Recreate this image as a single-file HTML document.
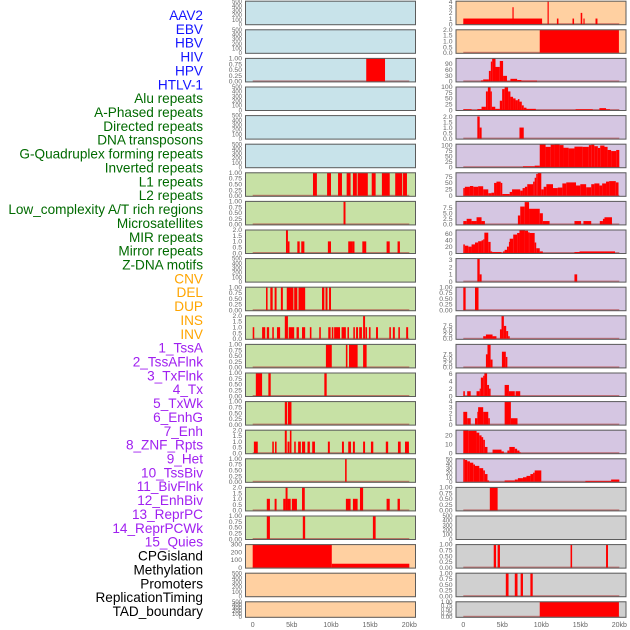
<!DOCTYPE html>
<html><head><meta charset="utf-8"><style>
html,body{margin:0;padding:0;background:#fff;width:630px;height:630px;overflow:hidden}
svg{display:block;font-family:"Liberation Sans",sans-serif}
</style></head><body>
<svg id="chart" width="630" height="630"></svg>
<script>
// ---------- data ----------
const trackLabels = ["AAV2","EBV","HBV","HIV","HPV","HTLV-1","Alu repeats","A-Phased repeats","Directed repeats","DNA transposons","G-Quadruplex forming repeats","Inverted repeats","L1 repeats","L2 repeats","Low_complexity A/T rich regions","Microsatellites","MIR repeats","Mirror repeats","Z-DNA motifs","CNV","DEL","DUP","INS","INV","1_TssA","2_TssAFlnk","3_TxFlnk","4_Tx","5_TxWk","6_EnhG","7_Enh","8_ZNF_Rpts","9_Het","10_TssBiv","11_BivFlnk","12_EnhBiv","13_ReprPC","14_ReprPCWk","15_Quies","CPGisland","Methylation","Promoters","ReplicationTiming","TAD_boundary"];
const labelGroups = [0,0,0,0,0,0,1,1,1,1,1,1,1,1,1,1,1,1,1,2,2,2,2,2,3,3,3,3,3,3,3,3,3,3,3,3,3,3,3,4,4,4,4,4];
const groupColors = ["#1414ff","#006a00","#ffa500","#a020f0","#000000"];
const xTickValues = [0,5,10,15,20];
const xTickLabels = ["0","5kb","10kb","15kb","20kb"];

const T500 = [0,100,200,300,400,500], T500L = ["0","100","200","300","400","500"];
const T1 = [0,0.25,0.5,0.75,1], T1L = ["0.00","0.25","0.50","0.75","1.00"];
const T2 = [0,0.5,1,1.5,2], T2L = ["0.0","0.5","1.0","1.5","2.0"];
const T300 = [0,100,200,300], T300L = ["0","100","200","300"];
const T4 = [0,1,2,3,4], T4L = ["0","1","2","3","4"];
const T3 = [0,1,2,3], T3L = ["0","1","2","3"];
const T90 = [0,30,60,90], T90L = ["0","30","60","90"];
const T100 = [0,25,50,75,100], T100L = ["0","25","50","75","100"];
const T75 = [0,25,50,75], T75L = ["0","25","50","75"];
const T7 = [0,2.5,5,7.5], T7L = ["0.0","2.5","5.0","7.5"];
const T60 = [0,20,40,60], T60L = ["0","20","40","60"];
const T6 = [0,2,4,6], T6L = ["0","2","4","6"];
const T20 = [0,10,20], T20L = ["0","10","20"];
const T50 = [0,10,20,30,40,50], T50L = ["0","10","20","30","40","50"];

// segments: [startKb, endKb, value]
const L_HIV = [[14.5,16.9,1]];
const L_L1 = [[7.7,8.2,1],[9.5,10.0,1],[10.9,11.4,1],[12.0,12.5,1],[12.8,13.3,1],[13.4,14.7,1],[15.2,15.7,1],[16.5,17.5,1],[18.2,19.1,1],[19.2,19.7,1]];
const L_L2 = [[11.6,11.85,1]];
const L_LowC = [[4.25,4.5,2],[4.5,4.7,1],[5.7,6.0,1],[6.2,6.6,1],[9.6,10.0,1],[12.2,12.8,1],[12.8,13.0,1],[14.0,14.5,1],[17.1,17.5,1],[18.5,18.8,1]];
const L_MIR = [[1.7,1.9,1],[2.25,2.55,1],[2.8,3.05,1],[3.6,3.85,1],[4.35,5.2,1],[5.3,5.7,1],[5.85,6.7,1],[8.85,9.15,1],[9.3,9.55,1],[9.75,10.0,1]];
const L_Mirror = [[0,0.2,1],[1.2,1.6,1],[1.8,2.1,1],[2.5,2.7,1],[3.1,3.5,1],[4.1,4.5,2],[4.6,5.3,1],[5.6,5.9,1],[6.3,6.7,1],[7.3,7.5,1],[8.5,8.7,1],[9.65,9.95,1],[10.1,10.3,1],[10.4,11.15,1],[11.35,11.9,1],[12.1,12.3,1],[12.85,13.05,1],[13.2,13.45,1],[13.6,13.95,1],[14.1,14.35,2],[14.4,14.6,1],[14.85,15.05,1],[15.75,16.0,1],[17.45,17.65,1],[17.9,18.15,1],[18.6,18.8,1],[19.6,19.85,1]];
const L_CNV = [[9.35,10.1,1],[11.9,12.1,1],[12.3,13.4,1],[14.1,14.55,1]];
const L_DEL = [[0.4,1.2,1],[2.0,2.3,1],[9.15,9.45,1]];
const L_DUP = [[4.1,4.4,1],[4.5,4.95,1]];
const L_INS = [[0.15,0.65,1],[2.5,2.7,1],[2.85,3.05,1],[4.1,4.35,2],[4.45,4.7,1],[4.75,4.95,2],[5.3,5.5,1],[5.8,6.15,1],[6.3,6.7,1],[7.0,7.3,1],[7.6,7.95,1],[9.6,9.85,1],[11.4,11.65,1],[12.2,12.55,1],[12.8,13.05,1],[14.1,14.35,1],[15.1,15.4,1],[17.0,17.3,1],[18.55,18.9,1],[19.45,19.95,1]];
const L_INV = [[11.8,12.0,1]];
const L_TssA = [[1.8,2.2,1],[2.8,3.05,1],[3.9,4.2,1],[4.2,4.45,2],[4.45,4.85,1],[5.0,5.65,1],[6.3,6.65,2],[11.9,12.5,1],[12.8,13.4,1],[13.7,14.1,2],[17.1,17.5,1],[18.5,18.8,1]];
const L_TssAFlnk = [[1.8,2.2,1],[6.4,6.7,1],[15.35,15.7,1]];
const L_CPG = [[0,10.1,300],[10.1,20.0,50]];

const R_AAV2 = [[0,10.1,1],[6.3,6.45,3],[10.8,10.95,4],[12.0,12.2,1],[14.0,14.2,1],[15.05,15.25,2],[15.4,15.55,1],[16.95,17.2,1]];
const R_EBV = [[9.8,19.95,2]];
const R_HIV = [[2.26,2.55,5],[2.55,3.28,10],[3.28,3.53,53],[3.53,3.7,100],[3.7,4.13,117],[4.13,4.68,73],[4.68,5.1,103],[5.1,5.6,28],[5.6,6.04,3],[6.04,6.9,13],[6.9,7.45,7],[7.45,9.45,4]];
const R_HTLV = [[0,1.06,3],[1.8,2.34,4],[2.34,2.9,14],[2.9,3.15,80],[3.15,3.5,97],[3.5,3.66,80],[3.66,4.1,14],[4.1,4.68,5],[4.68,4.98,40],[4.98,5.3,90],[5.3,5.74,100],[5.74,6.04,80],[6.04,6.38,57],[6.38,6.7,50],[6.7,7.0,42],[7.0,7.2,47],[7.2,7.5,36],[7.5,7.75,20],[7.75,8.1,10],[8.1,9.3,5],[14.4,16.6,3],[17.45,18.3,8],[18.3,18.8,3]];
const R_APhased = [[1.8,2.1,2],[2.1,2.35,1],[7.2,7.75,1]];
const R_DNA = [[7.65,9.15,4],[9.15,9.8,7],[9.8,10.55,103],[10.55,11.2,92],[11.2,11.7,102],[11.7,12.35,104],[12.35,12.85,100],[12.85,13.5,88],[13.5,14.25,85],[14.25,15.3,93],[15.3,16.1,92],[16.1,16.4,100],[16.4,16.8,102],[16.8,17.25,95],[17.25,17.55,87],[17.55,18.1,98],[18.1,18.5,92],[18.5,18.95,78],[18.95,19.6,73],[19.6,20.0,78]];
const R_Inverted = [[0,0.2,30],[0.2,0.85,35],[0.85,1.28,38],[1.28,1.9,35],[1.9,2.55,37],[2.55,3.2,25],[3.2,3.6,10],[3.6,3.95,12],[3.95,4.25,50],[4.25,4.8,55],[4.8,5.0,50],[5.0,5.95,7],[5.95,6.25,15],[6.25,7.3,25],[7.3,7.6,20],[7.6,7.9,30],[7.9,8.2,35],[8.2,8.95,45],[8.95,9.15,55],[9.15,9.35,70],[9.35,9.55,85],[9.55,10.0,90],[10.0,10.3,25],[10.3,10.65,35],[10.65,11.5,45],[11.5,12.1,30],[12.1,12.7,32],[12.7,13.2,48],[13.2,14.45,52],[14.45,15.0,40],[15.0,15.75,45],[15.75,16.4,33],[16.4,16.8,45],[16.8,17.45,48],[17.45,17.8,40],[17.8,18.3,48],[18.3,18.7,55],[18.7,19.55,57],[19.55,19.9,52]];
const R_L1 = [[0,0.43,1.5],[0.43,1.06,2.5],[1.06,1.7,1.5],[1.7,2.34,3.2],[2.34,2.77,1.5],[7.0,7.3,4],[7.3,7.87,8],[7.87,8.43,10],[8.43,9.8,7],[9.8,10.2,5],[10.2,11.06,1.5],[14.25,15.1,1.5],[15.4,16.4,1.5],[17.5,17.9,1.5],[17.9,18.1,2.5],[18.1,19.06,3.2]];
const R_L2 = [[0,0.2,27],[0.2,0.64,23],[0.64,1.06,20],[1.06,1.5,27],[1.5,1.9,33],[1.9,2.34,37],[2.34,2.55,40],[2.55,2.7,43],[2.7,3.2,64],[3.2,3.5,35],[3.5,3.7,5],[3.7,4.9,3],[5.1,5.3,5],[5.3,5.6,10],[5.6,5.85,20],[5.85,5.95,35],[5.95,6.4,45],[6.4,6.9,58],[6.9,7.2,63],[7.2,7.9,72],[7.9,8.3,70],[8.3,8.5,65],[8.5,9.15,63],[9.15,9.35,33],[9.35,9.8,15],[9.8,10.2,5],[14.25,14.9,3],[14.9,18.1,5],[18.1,19.45,5]];
const R_LowC = [[1.8,2.1,3.2],[2.1,2.35,1],[14.25,14.6,1]];
const R_Micro = [[0,0.3,1],[1.5,1.95,1]];
const R_MIR = [[2.55,2.9,1.5],[2.9,3.75,2.5],[3.75,4.25,1.5],[4.7,4.9,5.5],[4.9,5.2,13.5],[5.2,5.5,7.5],[5.5,5.75,4.5],[5.75,5.95,1.5]];
const R_Mirror = [[2.9,3.1,7.5],[3.1,3.5,13],[3.5,3.75,4.5],[4.95,5.45,9],[5.45,5.65,6]];
const R_ZDNA = [[0,0.2,1.3],[0.5,0.95,1.3],[1.7,2.1,1.3],[2.1,2.25,2],[2.25,2.55,5],[2.55,2.7,5.5],[2.7,3.05,6.3],[3.05,3.3,3],[3.3,3.5,2],[5.3,5.85,3],[5.85,6.6,1.3],[6.7,7.3,1.3]];
const R_CNV = [[0,0.5,2.2],[0.5,0.95,1.1],[1.5,1.8,1.1],[1.8,1.9,2.2],[1.9,2.55,3],[2.55,3.2,2.2],[3.2,3.4,1.1],[5.3,6.1,4],[6.1,6.95,1.1]];
const R_DEL = [[0,0.64,26],[0.64,1.7,25],[1.7,2.05,23],[2.05,2.34,20],[2.34,2.55,18],[2.55,2.77,15],[2.77,3.1,7],[3.75,4.9,4],[4.9,5.2,2],[5.65,5.9,3],[5.9,6.6,7],[6.6,6.9,5],[6.9,7.2,3],[7.2,7.35,1]];
const R_DUP = [[0,0.2,50],[0.2,0.5,48],[0.5,0.85,45],[0.85,1.28,42],[1.28,1.5,38],[1.5,2.05,35],[2.05,2.55,30],[2.55,2.77,25],[2.77,3.1,17],[3.1,3.3,3],[5.3,6.6,3],[6.6,7.0,5],[7.0,7.65,8],[7.65,8.1,10],[8.1,8.6,13],[8.6,8.95,17],[8.95,9.15,20],[9.15,10.0,25],[15.65,18.95,2],[18.95,20.0,5]];
const R_INS = [[3.4,4.4,1]];
const R_CPGstate = [[3.9,4.2,1],[4.4,4.7,1],[13.75,13.95,1],[18.3,18.55,1]];
const R_Methyl = [[5.45,5.8,1],[6.6,6.95,1],[7.35,7.65,1],[8.6,8.9,1]];
const R_TAD = [[9.8,19.95,1]];

// column configs: [bg, ticks, tickLabels, ymax, segments]
const BLUE="#c8e3ea", GREEN="#c7e1a5", ORANGE="#ffd0a1", PURPLE="#d5c6e2", GRAY="#d0d0d0";
const leftRows = [
 [BLUE,T500,T500L,500,[]],[BLUE,T500,T500L,500,[]],[BLUE,T1,T1L,1,L_HIV],[BLUE,T500,T500L,500,[]],[BLUE,T500,T500L,500,[]],[BLUE,T500,T500L,500,[]],
 [GREEN,T1,T1L,1,L_L1],[GREEN,T1,T1L,1,L_L2],[GREEN,T2,T2L,2,L_LowC],[GREEN,T500,T500L,500,[]],[GREEN,T1,T1L,1,L_MIR],[GREEN,T2,T2L,2,L_Mirror],
 [GREEN,T1,T1L,1,L_CNV],[GREEN,T1,T1L,1,L_DEL],[GREEN,T1,T1L,1,L_DUP],[GREEN,T2,T2L,2,L_INS],[GREEN,T1,T1L,1,L_INV],[GREEN,T2,T2L,2,L_TssA],[GREEN,T1,T1L,1,L_TssAFlnk],
 [ORANGE,T300,T300L,300,L_CPG],[ORANGE,T500,T500L,500,[]],[ORANGE,T500,T500L,500,[]]
];
const rightRows = [
 [ORANGE,T4,T4L,4.1,R_AAV2],[ORANGE,T2,T2L,2,R_EBV],[PURPLE,T90,T90L,117,R_HIV],[PURPLE,T100,T100L,100,R_HTLV],[PURPLE,T2,T2L,2.1,R_APhased],[PURPLE,T100,T100L,105,R_DNA],
 [PURPLE,T75,T75L,90,R_Inverted],[PURPLE,T7,T7L,10.4,R_L1],[PURPLE,T60,T60L,73,R_L2],[PURPLE,T3,T3L,3.2,R_LowC],[PURPLE,T1,T1L,1,R_Micro],[PURPLE,T7,T7L,13.5,R_MIR],
 [PURPLE,T7,T7L,13.3,R_Mirror],[PURPLE,T6,T6L,6.3,R_ZDNA],[PURPLE,T4,T4L,4,R_CNV],[PURPLE,T20,T20L,26,R_DEL],[PURPLE,T50,T50L,51,R_DUP],
 [GRAY,T1,T1L,1,R_INS],[GRAY,T500,T500L,500,[]],[GRAY,T1,T1L,1,R_CPGstate],[GRAY,T1,T1L,1,R_Methyl],[GRAY,T1,T1L,1,R_TAD]
];

// ---------- drawing ----------
const NS="http://www.w3.org/2000/svg";
const svg=document.getElementById('chart');
function mk(tag,attrs,parent){const e=document.createElementNS(NS,tag);for(const k in attrs)e.setAttribute(k,attrs[k]);(parent||svg).appendChild(e);return e;}

// labels
trackLabels.forEach((t,i)=>{
  const el=mk('text',{x:203,y:(20+13.86*i).toFixed(1),'text-anchor':'end','font-size':'13.6',fill:groupColors[labelGroups[i]]});
  el.textContent=t;
  
  
});

function rowTop(i){return 0.7+28.6*i;}
function rowH(i){return i===21?16.5:24.5;}

function drawColumn(rows, panelLeft, x0, colName){
  const pxPerKb=(x0===252.7?156.6:156.0)/20;
  const xs=kb=>x0+kb*pxPerKb;
  rows.forEach((r,i)=>{
    const [bg,ticks,tl,ymax,segs]=r;
    const top=rowTop(i), h=rowH(i), bot=top+h;
    const ys=v=>bot-1-(v/ymax)*(h-1.3);
    const g=mk('g',{});
    
    
    const bgr=mk('rect',{x:panelLeft,y:top,width:171,height:h,fill:bg,stroke:'none'},g);
    
    
    if(segs.length){
      const base=mk('rect',{x:xs(0),y:ys(0)-1,width:xs(20)-xs(0),height:1.6,fill:'rgba(175,55,55,0.6)'},g);
      
      
    }
    segs.forEach(s=>{
      const x1=xs(s[0]), x2=xs(s[1]), y1=ys(s[2]);
      const b=mk('rect',{x:x1.toFixed(2),y:y1.toFixed(2),width:Math.max(1.2,x2-x1).toFixed(2),height:(ys(0)-y1).toFixed(2),fill:'#ff0000'},g);
      
      
    });
    const br=mk('rect',{x:panelLeft+0.5,y:top+0.5,width:170,height:h-1,fill:'none',stroke:'#5c5c5c','stroke-width':1},g);
    
    
    ticks.forEach((t,k)=>{
      const fs = (ticks.length>5||i===21)?6:6.8;
      const tx=mk('text',{x:panelLeft-3,y:(ys(t)+2.3).toFixed(1),'text-anchor':'end','font-size':fs,fill:'#666'},g);
      tx.textContent=tl[k];
      
      
    });
  });
  xTickValues.forEach((v,k)=>{
    const tx=mk('text',{x:xs(v).toFixed(1),y:627,'text-anchor':'middle','font-size':7,fill:'#666'});
    tx.textContent=xTickLabels[k];
    
    
  });
}
drawColumn(leftRows,245,252.7,'left');
drawColumn(rightRows,455.5,463.3,'right');
</script>
</body></html>
